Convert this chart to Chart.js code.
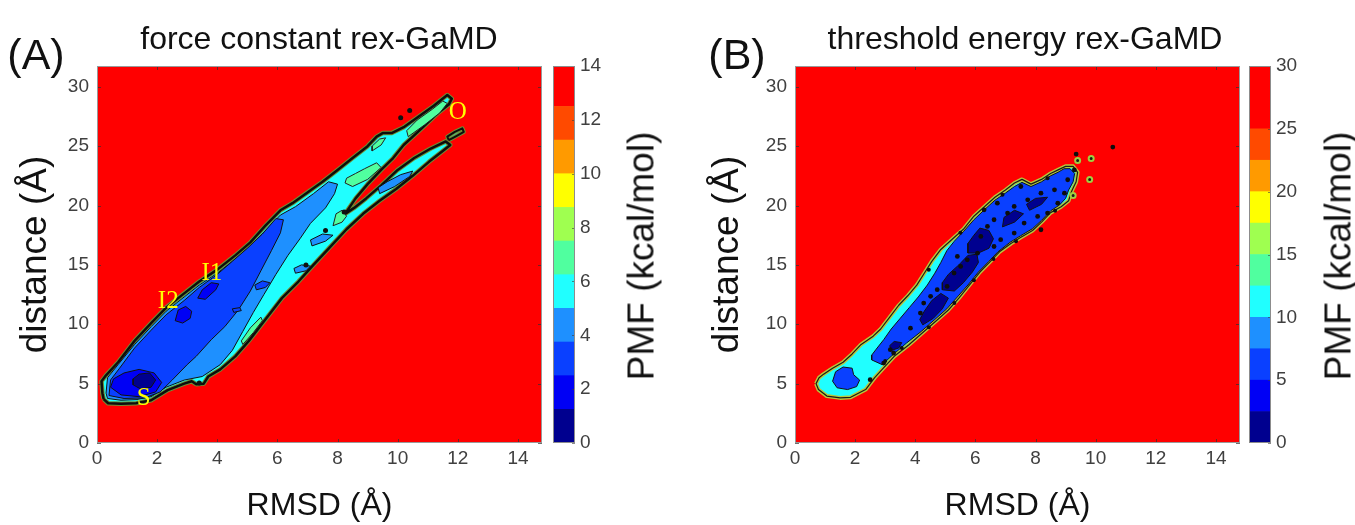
<!DOCTYPE html>
<html>
<head>
<meta charset="utf-8">
<title>rex-GaMD free energy profiles</title>
<script src="https://cdn.jsdelivr.net/npm/chart.js@4.4.1/dist/chart.umd.min.js"></script>
<style>
  body { margin: 0; background: #fff; width: 1355px; height: 525px; position: relative; overflow: hidden;
         font-family: "Liberation Sans", Arial, Helvetica, sans-serif; }
  canvas { position: absolute; top: 0; }
  .txt { position: absolute; color: #111; white-space: nowrap; line-height: 1; transform: translate(-50%, -50%); }
  .vert { transform: translate(-50%, -50%) rotate(-90deg); }
</style>
</head>
<body>
<canvas id="plotA" width="548" height="525" style="left:0px"></canvas>
<canvas id="barA" width="82" height="525" style="left:553px"></canvas>
<canvas id="plotB" width="548" height="525" style="left:698px"></canvas>
<canvas id="barB" width="82" height="525" style="left:1249px"></canvas>

<div class="txt" style="left:36px;top:54px;font-size:43px">(A)</div>
<div class="txt" style="left:319px;top:38px;font-size:32px">force constant rex-GaMD</div>
<div class="txt vert" style="left:641px;top:256px;font-size:37px">PMF (kcal/mol)</div>
<div class="txt" style="left:737px;top:54px;font-size:43px">(B)</div>
<div class="txt" style="left:1025px;top:38px;font-size:32px">threshold energy rex-GaMD</div>
<div class="txt vert" style="left:1338px;top:256px;font-size:37px">PMF (kcal/mol)</div>

<script>
// ---- axes ----
const X_RANGE = [0, 14.8];          // RMSD (Å)
const Y_RANGE = [0, 31.75];         // distance (Å)
const X_TICK_STEP = 2;
const Y_TICK_STEP = 5;

// ---- PMF contour levels (kcal/mol) and their fill colours ----
const LEVELS_A = [0, 1.25, 2.5, 3.75, 5, 6.25, 7.5, 8.75, 10, 11.25, 12.5, 14];
const LEVELS_B = [0, 2.5, 5, 7.5, 10, 12.5, 15, 17.5, 20, 22.5, 25, 30];
const CBAR_STEP_A = 2;
const CBAR_STEP_B = 5;
const LEVEL_COLORS = ['#00008f', '#0000f5', '#0a40ff', '#1e90ff', '#20ffff', '#50ff9f',
                      '#9fff50', '#ffff00', '#ff9a00', '#ff4a00', '#ff0000'];

// ---- (A) force constant rex-GaMD: contour regions, [RMSD, distance] ----
const a_outline = [[0.22,3.7],[0.37,3.35],[0.8,3.3],[1.3,3.35],[1.8,3.6],[2.35,4.45],[2.9,5.0],[3.15,5.2],[3.3,4.95],[3.55,5.0],[3.7,5.6],[4.1,6.2],[4.6,7.3],[5.05,8.6],[5.6,10.4],[6.15,12.2],[6.7,13.6],[7.2,15.0],[7.75,16.5],[8.3,18.0],[8.85,19.3],[9.4,20.4],[9.95,21.4],[10.5,22.5],[11.05,23.7],[11.5,24.6],[11.75,25.1],[11.6,25.4],[11.1,24.8],[10.55,24.0],[10.0,23.0],[9.45,21.7],[8.95,20.6],[8.55,19.8],[8.25,19.3],[8.6,20.6],[9.0,21.8],[9.45,23.0],[9.85,24.0],[10.2,25.1],[10.8,26.5],[11.3,27.7],[11.7,28.5],[11.8,29.0],[11.65,29.3],[11.2,28.4],[10.7,27.5],[10.2,26.6],[9.8,26.1],[9.5,26.1],[9.3,25.8],[9.0,25.0],[8.5,24.0],[8.0,23.0],[7.5,22.0],[7.0,21.1],[6.5,20.2],[6.1,19.6],[5.6,18.3],[5.1,16.9],[4.6,15.8],[4.0,14.6],[3.4,13.6],[2.9,12.6],[2.3,11.4],[1.8,10.1],[1.25,8.6],[0.7,6.8],[0.3,5.7],[0.15,5.2],[0.18,4.2]];
const a_tipBlob = [[11.7,25.5],[11.95,25.85],[12.2,26.2],[12.15,26.5],[11.9,26.2],[11.65,25.8]];
const a_green1 = [[8.5,21.6],[9.0,22.2],[9.45,23.2],[9.3,23.6],[8.9,23.1],[8.6,22.7],[8.3,22.3],[8.25,21.9]];
const a_green2 = [[7.85,18.3],[8.15,18.6],[8.3,19.1],[8.15,19.6],[7.95,19.3]];
const a_green3 = [[10.35,25.8],[10.9,26.8],[11.4,27.8],[11.65,28.6],[11.5,28.8],[11.15,28.1],[10.65,27.2],[10.3,26.3]];
const a_green4 = [[9.15,24.6],[9.45,25.1],[9.6,25.7],[9.4,25.6],[9.15,25.0]];
const a_green5 = [[4.85,8.3],[5.2,9.3],[5.5,10.3],[5.45,10.6],[5.1,9.7],[4.8,8.6]];
const a_band3 = [[0.35,3.75],[0.8,3.6],[1.3,3.65],[1.8,3.9],[2.3,4.7],[2.9,5.3],[3.5,5.6],[4.1,6.6],[4.5,7.8],[4.85,9.4],[5.2,11.0],[5.55,12.5],[5.95,14.2],[6.35,15.8],[6.75,17.2],[7.1,18.5],[7.6,19.8],[7.9,21.0],[8.0,21.8],[7.7,22.0],[7.2,21.0],[6.6,19.9],[6.1,19.2],[5.6,17.9],[5.1,16.6],[4.6,15.5],[4.0,14.3],[3.4,13.3],[2.9,12.3],[2.3,11.1],[1.8,9.8],[1.25,8.3],[0.7,6.6],[0.35,5.5],[0.3,4.2]];
const a_isle3a = [[9.4,21.0],[9.9,21.6],[10.4,22.45],[10.5,22.9],[10.1,22.6],[9.65,22.0],[9.35,21.5]];
const a_isle3b = [[7.15,16.6],[7.6,17.0],[7.85,17.5],[7.5,17.6],[7.1,17.1]];
const a_isle3c = [[6.6,14.3],[6.95,14.5],[7.1,14.9],[6.8,15.0],[6.55,14.7]];
const a_core2 = [[0.4,4.0],[0.9,3.75],[1.6,3.8],[2.1,4.3],[2.5,5.3],[3.0,6.6],[3.3,7.3],[3.8,8.7],[4.25,9.8],[4.7,11.2],[5.1,12.8],[5.45,14.5],[5.8,16.2],[6.1,17.7],[6.2,18.8],[5.95,18.9],[5.5,17.6],[5.0,16.4],[4.5,15.3],[4.0,14.2],[3.4,13.1],[2.9,12.0],[2.3,10.8],[1.8,9.5],[1.25,8.0],[0.75,6.3],[0.45,5.3]];
const a_isle2a = [[5.3,12.9],[5.6,13.1],[5.75,13.5],[5.5,13.65],[5.25,13.3]];
const a_isle2b = [[4.55,11.0],[4.8,11.15],[4.75,11.4],[4.5,11.3]];
const a_wellS = [[0.45,4.7],[0.8,4.05],[1.4,3.9],[1.95,4.3],[2.15,5.1],[1.9,5.9],[1.4,6.2],[0.9,5.9],[0.55,5.4]];
const a_wellI2 = [[2.6,10.3],[2.85,10.1],[3.1,10.5],[3.15,11.1],[2.95,11.5],[2.7,11.2]];
const a_wellI1 = [[3.35,12.2],[3.6,12.1],[3.95,12.9],[4.05,13.4],[3.8,13.5],[3.5,12.9]];
const a_minS = [[1.2,4.9],[1.45,4.55],[1.8,4.7],[1.95,5.3],[1.75,5.9],[1.4,5.8],[1.2,5.4]];
const a_specks = [[10.1,27.4],[10.4,28.0],[8.22,19.45],[7.6,17.9],[6.95,15.0],[3.4,5.05]];

// state names placed on the (A) landscape
const STATE_NAMES = ['S', 'I2', 'I1', 'O'];
const STATE_X = [1.55, 2.37, 3.82, 12.0];
const STATE_Y = [3.75, 11.9, 14.3, 27.8];

// ---- (B) threshold energy rex-GaMD: contour regions ----
const b_outline = [[0.70,5.0],[0.78,4.5],[1.06,3.95],[1.5,3.8],[1.85,3.85],[2.35,4.5],[2.65,5.5],[2.9,6.2],[3.3,7.3],[3.8,8.3],[4.25,9.3],[4.7,10.3],[5.1,11.2],[5.45,12.2],[5.8,13.3],[6.15,14.4],[6.5,15.3],[6.8,16.1],[7.18,16.8],[7.5,17.3],[7.9,17.9],[8.2,18.6],[8.5,19.4],[8.85,19.9],[9.1,20.4],[9.2,21.2],[9.35,22.0],[9.4,22.8],[9.25,23.3],[9.0,23.3],[8.75,23.0],[8.5,22.7],[8.2,22.2],[7.85,21.8],[7.55,22.2],[7.3,21.9],[7.0,21.3],[6.65,20.7],[6.3,19.9],[5.95,19.1],[5.6,18.0],[5.2,17.1],[4.85,16.3],[4.55,15.3],[4.3,14.3],[4.05,13.3],[3.75,12.4],[3.45,11.6],[3.15,10.6],[2.85,9.6],[2.6,9.0],[2.2,8.3],[1.9,7.5],[1.6,6.8],[1.25,6.3],[0.95,5.8],[0.8,5.5]];
const b_body2 = [[2.55,7.0],[2.9,6.6],[3.2,7.3],[3.7,8.4],[4.2,9.4],[4.65,10.4],[5.05,11.3],[5.4,12.3],[5.75,13.3],[6.1,14.4],[6.45,15.3],[6.75,16.1],[7.15,16.9],[7.5,17.45],[7.9,18.05],[8.2,18.75],[8.5,19.55],[8.8,20.05],[9.0,20.6],[9.1,21.3],[9.25,22.0],[9.3,22.7],[9.15,23.1],[8.95,23.1],[8.75,22.8],[8.5,22.5],[8.2,22.0],[7.85,21.6],[7.55,21.95],[7.3,21.6],[7.0,21.05],[6.65,20.45],[6.3,19.65],[5.95,18.8],[5.6,17.8],[5.3,17.0],[5.05,16.2],[4.85,15.2],[4.65,14.3],[4.4,13.3],[4.1,12.3],[3.8,11.4],[3.5,10.5],[3.2,9.6],[2.95,8.7],[2.7,7.9],[2.55,7.4]];
const b_blob2 = [[1.25,5.2],[1.4,4.65],[1.75,4.5],[2.05,4.75],[2.15,5.3],[1.95,5.75],[1.9,6.3],[1.6,6.4],[1.35,6.0]];
const b_deep1 = [[4.25,9.95],[4.6,10.5],[4.9,11.3],[5.1,12.2],[4.85,12.6],[4.55,12.0],[4.3,11.1],[4.15,10.4]];
const b_deep2 = [[4.9,12.9],[5.3,12.8],[5.6,13.5],[5.9,14.4],[6.1,15.2],[6.05,15.9],[5.75,15.8],[5.45,15.0],[5.1,14.2],[4.9,13.5]];
const b_deep3 = [[5.75,16.0],[6.1,16.0],[6.45,16.4],[6.6,17.2],[6.45,17.9],[6.15,18.1],[5.95,17.5],[5.75,16.8]];
const b_deep4 = [[3.2,7.8],[3.45,8.0],[3.55,8.45],[3.3,8.55],[3.15,8.2]];
const b_deep5 = [[6.9,18.2],[7.3,18.6],[7.6,19.3],[7.3,19.6],[6.95,19.0]];
const b_deep6 = [[7.8,19.6],[8.2,20.1],[8.4,20.7],[8.0,20.6],[7.7,20.1]];
const b_specks = [[2.5,5.33],[2.95,6.73],[3.17,7.86],[3.28,7.58],[3.84,9.67],[4.17,10.94],[4.28,11.78],[4.51,12.35],[4.73,12.91],[5.06,13.19],[5.29,14.31],[5.51,14.87],[5.4,15.71],[5.73,15.43],[6.07,15.99],[6.18,17.4],[6.4,18.24],[6.62,18.8],[6.62,16.55],[6.84,17.12],[7.29,17.68],[7.62,18.52],[8.07,19.08],[8.18,17.96],[8.4,19.36],[8.74,20.2],[8.96,21.04],[9.07,22.17],[9.29,23.0],[9.35,24.33],[10.57,24.92],[7.74,20.48],[7.29,19.92],[7.07,19.36],[6.73,20.2],[6.29,19.64],[7.51,21.6],[8.18,21.04],[8.63,21.32]];
const b_edgeSpecks = [[3.0,6.9],[3.55,8.0],[4.45,9.75],[5.3,11.8],[5.95,13.7],[6.6,15.5],[7.35,17.0],[8.65,19.55],[4.45,14.6],[5.5,17.7],[6.9,20.9],[8.4,22.3]];
const b_rings = [[9.4,23.8],[9.85,23.95],[9.8,22.2],[9.25,20.85]];

// ---------------------------------------------------------------
const FONT = '"Liberation Sans", Arial, Helvetica, sans-serif';
Chart.defaults.font.family = FONT;

function polygon(pts, fillColor, lineColor, lineWidth) {
  const closed = pts.concat([pts[0]]);
  return {
    data: closed.map(([x, y]) => ({ x, y })),
    showLine: true,
    fill: fillColor ? 'shape' : false,
    backgroundColor: fillColor || 'rgba(0,0,0,0)',
    borderColor: lineColor,
    borderWidth: lineWidth,
    borderJoinStyle: 'round',
    pointRadius: 0, pointHoverRadius: 0, pointHitRadius: 0,
    tension: 0
  };
}
function dots(pts, color, radius, ring, ringWidth) {
  return {
    data: pts.map(([x, y]) => ({ x, y })),
    showLine: false,
    pointRadius: radius, pointHoverRadius: radius,
    backgroundColor: color,
    borderColor: ring || color,
    borderWidth: ring ? ringWidth : 0
  };
}
// first entry is painted first (bottom), last entry on top
function layered(list) {
  return list.map((d, i) => Object.assign(d, { order: list.length - i }));
}

// red field behind the contours (PMF above the top level)
function backdrop(color) {
  return {
    id: 'backdrop',
    beforeDatasetsDraw(chart) {
      const { ctx, chartArea: a } = chart;
      ctx.save();
      ctx.fillStyle = color;
      ctx.fillRect(a.left, a.top, a.right - a.left, a.bottom - a.top);
      ctx.restore();
    }
  };
}
// axes box with small inward tick marks
function frame(opts) {
  return {
    id: 'frame',
    afterDatasetsDraw(chart) {
      const { ctx, chartArea: a, scales } = chart;
      ctx.save();
      ctx.lineWidth = 1;
      ctx.strokeStyle = opts.tickColor;
      const L = opts.tickLength;
      if (opts.xTicks) {
        const sx = scales.x;
        sx.ticks.forEach((_, i) => {
          const p = Math.round(sx.getPixelForTick(i)) + 0.5;
          ctx.beginPath();
          ctx.moveTo(p, a.bottom); ctx.lineTo(p, a.bottom - L);
          ctx.moveTo(p, a.top); ctx.lineTo(p, a.top + L);
          ctx.stroke();
        });
      }
      if (opts.yTicks) {
        const sy = scales.y;
        sy.ticks.forEach((_, i) => {
          const p = Math.round(sy.getPixelForTick(i)) + 0.5;
          ctx.beginPath();
          if (opts.yTicks === 'both') { ctx.moveTo(a.left, p); ctx.lineTo(a.left + L, p); }
          ctx.moveTo(a.right, p); ctx.lineTo(a.right - L, p);
          ctx.stroke();
        });
      }
      ctx.strokeStyle = opts.color;
      ctx.strokeRect(a.left + 0.5, a.top + 0.5, a.right - a.left - 1, a.bottom - a.top - 1);
      ctx.restore();
    }
  };
}
// names of the metastable states
function stateLabels(names, xs, ys) {
  return {
    id: 'stateLabels',
    afterDatasetsDraw(chart) {
      const { ctx, scales: { x, y } } = chart;
      ctx.save();
      ctx.fillStyle = '#ffff00';
      ctx.font = '25px "Liberation Serif", "Times New Roman", serif';
      ctx.textAlign = 'center';
      ctx.textBaseline = 'middle';
      names.forEach((n, i) => ctx.fillText(n, x.getPixelForValue(xs[i]), y.getPixelForValue(ys[i])));
      ctx.restore();
    }
  };
}

function plotOptions(yTitlePad) {
  return {
    responsive: false, animation: false, events: [],
    layout: { padding: { top: 66, right: 6, left: 0, bottom: 0 } },
    plugins: { legend: { display: false }, tooltip: { enabled: false } },
    scales: {
      x: {
        type: 'linear', min: X_RANGE[0], max: X_RANGE[1],
        afterFit(s) { s.height = 82; },
        grid: { display: false, drawTicks: false }, border: { display: false },
        ticks: { stepSize: X_TICK_STEP, includeBounds: false, padding: 4, color: '#404040', font: { size: 19 } },
        title: { display: true, text: 'RMSD (Å)', color: '#111', font: { size: 32 }, padding: { top: 0, bottom: 0 } }
      },
      y: {
        type: 'linear', min: Y_RANGE[0], max: Y_RANGE[1],
        afterFit(s) { s.width = 97; },
        grid: { display: false, drawTicks: false }, border: { display: false },
        ticks: { stepSize: Y_TICK_STEP, includeBounds: false, padding: 8, color: '#404040', font: { size: 19 } },
        title: { display: true, text: 'distance (Å)', color: '#111', font: { size: 37 }, padding: { top: yTitlePad, bottom: 0 } }
      }
    }
  };
}

function colorbar(canvasId, levels, step) {
  const datasets = levels.slice(0, -1).map((lo, i) => ({
    data: [[lo, levels[i + 1]]],
    backgroundColor: LEVEL_COLORS[i],
    borderWidth: 0,
    barPercentage: 1,
    categoryPercentage: 1
  }));
  return new Chart(document.getElementById(canvasId), {
    type: 'bar',
    data: { labels: [''], datasets },
    options: {
      responsive: false, animation: false, events: [],
      layout: { padding: { top: 66, bottom: 82, left: 0, right: 0 } },
      plugins: { legend: { display: false }, tooltip: { enabled: false } },
      scales: {
        x: { display: false, stacked: true },
        y: {
          position: 'right', min: levels[0], max: levels[levels.length - 1],
          afterFit(s) { s.width = 60; },
          grid: { display: false, drawTicks: false }, border: { display: false },
          ticks: { stepSize: step, padding: 5, color: '#404040', font: { size: 19 } }
        }
      }
    },
    plugins: [frame({ color: '#8c8c8c', tickColor: 'rgba(60,60,60,0.6)', tickLength: 3, yTicks: 'right' })]
  });
}

// ---- panel (A) ----
const C = LEVEL_COLORS;
const dsA = layered([
  polygon(a_outline, C[4], '#6e8f34', 4.5),
  polygon(a_tipBlob, C[4], '#6e8f34', 4),
  polygon(a_outline, null, '#0d0d0d', 2.5),
  polygon(a_tipBlob, null, '#0d0d0d', 2),
  polygon(a_green1, C[5], '#222', 1),
  polygon(a_green2, C[5], '#222', 1),
  polygon(a_green3, C[5], '#222', 1),
  polygon(a_green4, C[5], '#222', 1),
  polygon(a_green5, C[5], '#222', 1),
  polygon(a_band3, C[3], '#111', 1),
  polygon(a_isle3a, C[3], '#111', 1),
  polygon(a_isle3b, C[3], '#111', 1),
  polygon(a_isle3c, C[3], '#111', 1),
  polygon(a_core2, C[2], '#111', 1),
  polygon(a_isle2a, C[2], '#111', 1),
  polygon(a_isle2b, C[2], '#111', 1),
  polygon(a_wellS, C[1], '#111', 1),
  polygon(a_wellI2, C[1], '#111', 1),
  polygon(a_wellI1, C[1], '#111', 1),
  polygon(a_minS, C[0], '#111', 1),
  dots(a_specks, '#111', 2.5)
]);
new Chart(document.getElementById('plotA'), {
  type: 'scatter',
  data: { datasets: dsA },
  options: plotOptions(14),
  plugins: [backdrop(C[10]), frame({ color: '#9a9a9a', tickColor: 'rgba(50,50,50,0.7)', tickLength: 4, xTicks: true, yTicks: 'both' }),
            stateLabels(STATE_NAMES, STATE_X, STATE_Y)]
});
colorbar('barA', LEVELS_A, CBAR_STEP_A);

// ---- panel (B) ----
const dsB = layered([
  polygon(b_outline, C[4], '#b8c83a', 4),
  polygon(b_outline, null, '#1a1a1a', 1.2),
  polygon(b_body2, C[2], '#111', 1),
  polygon(b_blob2, C[2], '#111', 1),
  polygon(b_deep1, C[0], '#111', 1),
  polygon(b_deep2, C[0], '#111', 1),
  polygon(b_deep3, C[0], '#111', 1),
  polygon(b_deep4, C[0], '#111', 1),
  polygon(b_deep5, C[0], '#111', 1),
  polygon(b_deep6, C[0], '#111', 1),
  dots(b_specks, '#0d0d0d', 2.4),
  dots(b_edgeSpecks, '#0d0d0d', 2),
  dots(b_rings, '#1a1a1a', 2.5, '#9fd040', 2)
]);
new Chart(document.getElementById('plotB'), {
  type: 'scatter',
  data: { datasets: dsB },
  options: plotOptions(8),
  plugins: [backdrop(C[10]), frame({ color: '#9a9a9a', tickColor: 'rgba(50,50,50,0.7)', tickLength: 4, xTicks: true, yTicks: 'both' })]
});
colorbar('barB', LEVELS_B, CBAR_STEP_B);
</script>
</body>
</html>
